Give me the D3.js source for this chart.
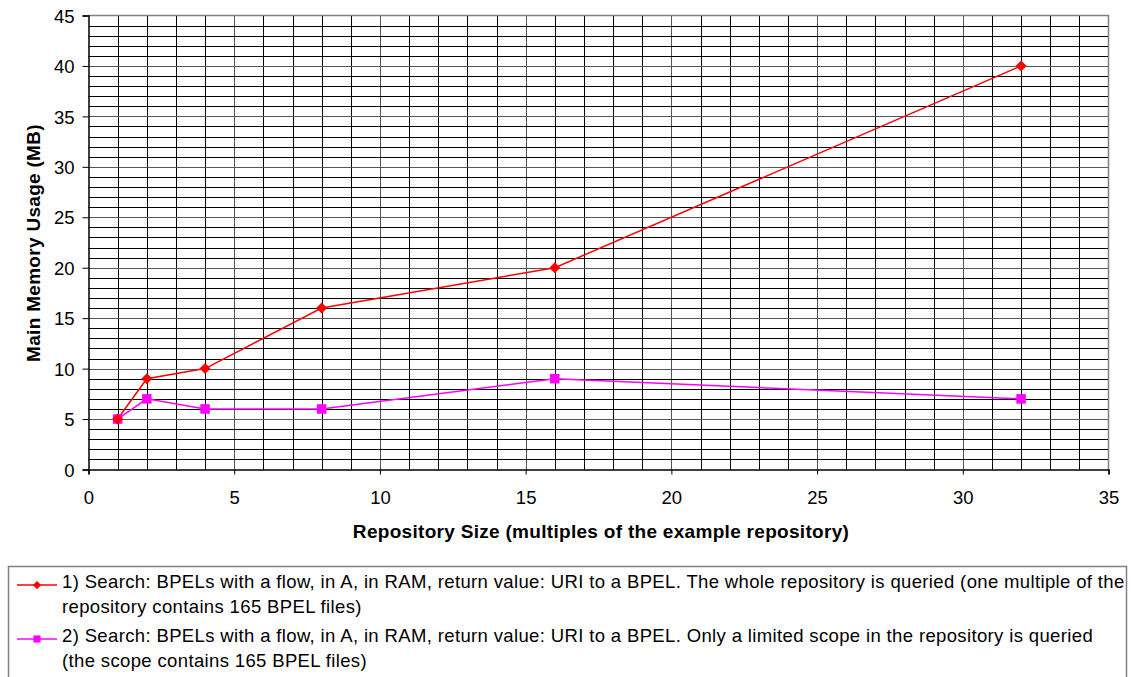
<!DOCTYPE html>
<html>
<head>
<meta charset="utf-8">
<script src="https://cdn.jsdelivr.net/npm/d3@7"></script>
<style>
  html, body { margin: 0; padding: 0; background: #fff; }
  svg { display: block; font-family: "Liberation Sans", Arial, sans-serif; }
</style>
</head>
<body>
<svg id="chart" width="1131" height="677"></svg>
<script>
// Repository size multiples (x values)
const repoSizes = [1, 2, 4, 8, 16, 32];
// Main memory usage in MB for each query variant
const wholeRepoMB = [5, 9, 10, 16, 20, 40];
const limitedScopeMB = [5, 7, 6, 6, 9, 7];

const xTicks = [0, 5, 10, 15, 20, 25, 30, 35];
const yTicks = [0, 5, 10, 15, 20, 25, 30, 35, 40, 45];

const seriesNames = [
  ["1) Search: BPELs with a flow, in A, in RAM, return value: URI to a BPEL. The whole repository is queried (one multiple of the",
   "repository contains 165 BPEL files)"],
  ["2) Search: BPELs with a flow, in A, in RAM, return value: URI to a BPEL. Only a limited scope in the repository is queried",
   "(the scope contains 165 BPEL files)"]
];

const series = [
  { values: wholeRepoMB, color: "#ff0000", marker: "diamond", name: seriesNames[0] },
  { values: limitedScopeMB, color: "#ff00ff", marker: "square", name: seriesNames[1] }
];

const svg = d3.select("#chart");
const plot = { left: 88.5, right: 1108.5, top: 15.5, bottom: 469.5 };

const x = d3.scaleLinear().domain([0, 35]).range([plot.left, plot.right]);
const y = d3.scaleLinear().domain([0, 45]).range([plot.bottom, plot.top]);

// Grid: a line at every unit on both axes
const grid = svg.append("g");
grid.selectAll("line.v").data(d3.range(1, 35)).join("line")
  .attr("x1", d => Math.round(x(d)) + 0.5).attr("x2", d => Math.round(x(d)) + 0.5)
  .attr("y1", plot.top).attr("y2", plot.bottom)
  .attr("stroke", d => d % 5 === 0 ? "#555" : "#000").attr("stroke-width", 1);
grid.selectAll("line.h").data(d3.range(1, 45)).join("line")
  .attr("y1", d => Math.round(y(d)) + 0.5).attr("y2", d => Math.round(y(d)) + 0.5)
  .attr("x1", plot.left).attr("x2", plot.right)
  .attr("stroke", d => d % 5 === 0 ? "#555" : "#000").attr("stroke-width", 1);

// Plot border (top and right)
svg.append("path")
  .attr("d", `M${plot.left},${plot.top}H${plot.right}V${plot.bottom}`)
  .attr("fill", "none").attr("stroke", "#808080").attr("stroke-width", 1.5);

// Axes
const xAxis = svg.append("g").attr("transform", `translate(0,${plot.bottom})`)
  .call(d3.axisBottom(x).tickValues(xTicks).tickSize(5).tickPadding(16).tickFormat(d3.format("d")));
const yAxis = svg.append("g").attr("transform", `translate(${plot.left},0)`)
  .call(d3.axisLeft(y).tickValues(yTicks).tickSize(6).tickPadding(8).tickFormat(d3.format("d")));
[xAxis, yAxis].forEach(a => {
  a.select(".domain").attr("stroke", "#000").attr("stroke-width", 1.5);
  a.selectAll(".tick line").attr("stroke", "#000");
  a.selectAll(".tick text").attr("font-size", 18.5).attr("fill", "#000")
    .attr("font-family", "Liberation Sans, Arial, sans-serif");
});
yAxis.selectAll(".tick text").attr("dy", "0.36em");

// Axis titles
svg.append("text")
  .attr("x", 601).attr("y", 538).attr("text-anchor", "middle")
  .attr("font-size", 19).attr("font-weight", "bold").attr("letter-spacing", 0.3)
  .text("Repository Size (multiples of the example repository)");
svg.append("text")
  .attr("transform", "translate(40,243) rotate(-90)").attr("text-anchor", "middle")
  .attr("font-size", 19).attr("font-weight", "bold").attr("letter-spacing", 0.3)
  .text("Main Memory Usage (MB)");

// Series lines and markers
const line = d3.line().x((d, i) => x(repoSizes[i])).y(d => y(d));

function drawMarker(g, type, color, cx, cy, scale = 1) {
  if (type === "diamond") {
    const r = 5.5 * scale;
    g.append("path")
      .attr("d", `M${cx},${cy - r}L${cx + r},${cy}L${cx},${cy + r}L${cx - r},${cy}Z`)
      .attr("fill", color);
  } else {
    const s = 9.5 * scale;
    g.append("rect").attr("x", cx - s / 2).attr("y", cy - s / 2)
      .attr("width", s).attr("height", s).attr("fill", color);
  }
}

const marks = svg.append("g");
series.slice().reverse().forEach(s => {
  marks.append("path").datum(s.values).attr("d", line)
    .attr("fill", "none").attr("stroke", s.color).attr("stroke-width", 1.5);
});
series.slice().reverse().forEach(s => {
  s.values.forEach((v, i) => drawMarker(marks, s.marker, s.color, x(repoSizes[i]), y(v)));
});

// Legend
const legend = svg.append("g");
legend.append("rect").attr("x", 8.5).attr("y", 566.5).attr("width", 1118).attr("height", 130)
  .attr("fill", "#fff").attr("stroke", "#808080").attr("stroke-width", 1.5);
const rowY = [585, 639];
series.forEach((s, k) => {
  const cy = rowY[k];
  legend.append("line").attr("x1", 17).attr("x2", 57).attr("y1", cy).attr("y2", cy)
    .attr("stroke", s.color).attr("stroke-width", 1.5);
  drawMarker(legend, s.marker, s.color, 37, cy, 0.75);
  const t = legend.append("text").attr("x", 62).attr("y", cy + 3)
    .attr("font-size", 18.5).attr("letter-spacing", 0.36).attr("fill", "#000");
  s.name.forEach((ln, j) => {
    t.append("tspan").attr("x", 62).attr("dy", j === 0 ? 0 : 24.5).text(ln);
  });
});
</script>
</body>
</html>
